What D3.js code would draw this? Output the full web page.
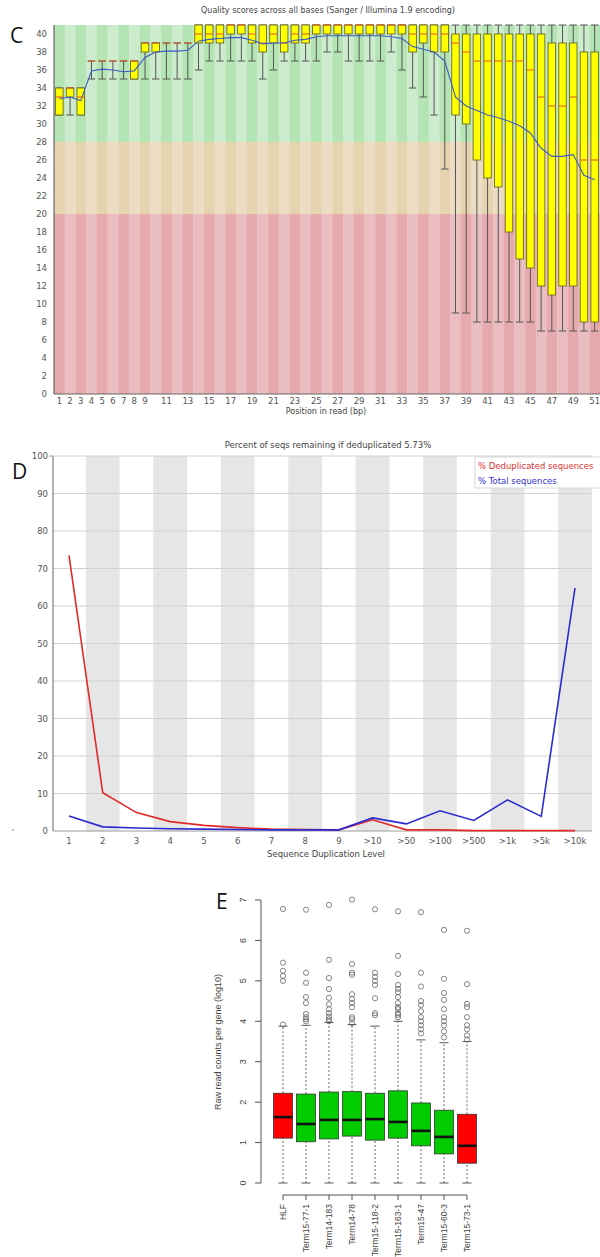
<!DOCTYPE html>
<html lang="en">
<head>
<meta charset="UTF-8">
<title>Read QC panels C, D, E</title>
<script src="https://d3js.org/d3.v7.min.js"></script>
<style>
  body { margin: 0; background: #fff; }
  svg { display: block; font-family: "DejaVu Sans", sans-serif; }
  .panel-letter { font-family: "Open Sans", "Liberation Sans", sans-serif; font-size: 21px; fill: #111; }
</style>
</head>
<body>
<svg id="fig" width="600" height="1257"></svg>
<script>
// ---------- Panel C data: per-base quality (positions 1..51)
const positions = [1,2,3,4,5,6,7,8,9,10,11,12,13,14,15,16,17,18,19,20,21,22,23,24,25,26,
  27,28,29,30,31,32,33,34,35,36,37,38,39,40,41,42,43,44,45,46,47,48,49,50,51];
const posTickLabels = [1,2,3,4,5,6,7,8,9,11,13,15,17,19,21,23,25,27,29,31,33,35,37,39,41,43,45,47,49,51];
const qLow  = [31,31,31,35,35,35,35,35,35,35,35,35,35,36,37,37,37,37,37,35,36,37,37,37,37,38,
  38,37,37,37,37,38,36,34,33,31,25,9,9,8,8,8,8,8,8,7,7,7,7,7,7];
const qQ1   = [31,33,31,37,37,37,37,35,38,38,39,39,39,39,39,39,40,40,39,38,39,38,39,39,40,40,
  40,40,40,40,40,40,40,38,39,38,38,31,30,26,24,23,18,15,14,12,11,12,12,8,8];
const qMed  = [33,34,33,37,37,37,37,37,39,39,39,39,39,40,40,40,41,41,40,39,40,39,40,40,41,41,
  41,41,41,41,41,41,41,40,40,40,40,39,38,37,37,37,37,37,36,33,32,32,33,26,26];
const qQ3   = [34,34,34,37,37,37,37,37,39,39,39,39,39,41,41,41,41,41,41,41,41,41,41,41,41,41,
  41,41,41,41,41,41,41,41,41,41,41,40,40,40,40,40,40,40,40,40,39,39,39,38,38];
const qHigh = [34,34,34,37,37,37,37,37,39,39,39,39,39,41,41,41,41,41,41,41,41,41,41,41,41,41,
  41,41,41,41,41,41,41,41,41,41,41,41,41,41,41,41,41,41,41,41,41,41,41,41,41];
const qMean = [32.8,33.0,32.6,35.9,36.1,36.0,35.8,35.9,37.4,38.0,38.1,38.1,38.2,39.2,39.4,39.5,
  39.6,39.6,39.3,38.9,39.0,39.0,39.3,39.4,39.7,39.8,39.8,39.8,39.8,39.8,39.8,39.7,39.5,38.6,
  38.3,38.0,37.0,33.0,32.0,31.5,31.0,30.7,30.3,29.8,29.0,27.3,26.4,26.4,26.6,24.3,23.8];
const qTicks = [0,2,4,6,8,10,12,14,16,18,20,22,24,26,28,30,32,34,36,38,40];

// ---------- Panel D data: duplication levels
const dupLevels = ["1","2","3","4","5","6","7","8","9",">10",">50",">100",">500",">1k",">5k",">10k"];
const dedupPct = [73.5,10.2,4.9,2.5,1.5,0.9,0.5,0.4,0.3,3.0,0.3,0.3,0.1,0.1,0.1,0.1];
const totalPct = [4.0,1.1,0.8,0.6,0.5,0.4,0.3,0.3,0.3,3.5,1.9,5.4,2.8,8.3,3.9,64.8];
const dupTicks = [0,10,20,30,40,50,60,70,80,90,100];

// ---------- Panel E data: raw read counts per gene (log10)
const samples  = ["HLF","Term15-77-1","Term14-183","Term14-78","Term15-118-2","Term15-163-1","Term15-47","Term15-60-3","Term15-73-1"];
const sampleGroup = ["ref","term","term","term","term","term","term","term","ref"];
const rcLow    = [0,0,0,0,0,0,0,0,0];
const rcQ1     = [1.11,1.02,1.09,1.16,1.06,1.11,0.92,0.72,0.49];
const rcMed    = [1.63,1.46,1.56,1.56,1.58,1.51,1.29,1.14,0.92];
const rcQ3     = [2.22,2.20,2.25,2.26,2.22,2.28,1.98,1.80,1.70];
const rcHigh   = [3.88,3.90,3.97,3.92,3.88,4.00,3.54,3.47,3.50];
const rcOutliers = [
  [6.78,5.45,5.25,5.12,5.0,3.92],
  [6.76,5.2,4.95,4.6,4.45,4.18,4.1,4.05,4.0],
  [6.88,5.52,5.07,4.8,4.58,4.42,4.3,4.2,4.12,4.05,4.0],
  [7.01,5.42,5.2,5.15,4.67,4.55,4.45,4.35,4.1,4.05,3.95],
  [6.77,5.2,5.1,5.0,4.9,4.57,4.2,4.15],
  [6.72,5.62,5.17,4.9,4.8,4.72,4.6,4.45,4.35,4.3,4.2,4.16,4.1],
  [6.70,5.2,4.86,4.5,4.4,4.25,4.1,4.0,3.9,3.8,3.7],
  [6.26,5.05,4.7,4.53,4.3,4.1,4.0,3.9,3.75,3.6],
  [6.24,4.92,4.43,4.35,4.1,3.9,3.8,3.65,3.55]
];
const rcTicks = [0,1,2,3,4,5,6,7];

const svg = d3.select("#fig");
svg.append("rect").attr("width", 600).attr("height", 1257).attr("fill", "#fff");

// ================= Panel C =================
const gC = svg.append("g");
const xC = d3.scaleBand().domain(positions).range([54, 600]);
const yC = d3.scaleLinear().domain([0, 41]).range([394, 25]);
const bw = xC.bandwidth();

const zones = [
  { from: 28, to: 41, dark: "#b4e3b4", light: "#cdebcd" },
  { from: 20, to: 28, dark: "#e6d3b0", light: "#ebdcc3" },
  { from: 0,  to: 20, dark: "#e6aaae", light: "#eabec0" }
];
zones.forEach(z => {
  gC.selectAll(null)
    .data(positions)
    .enter()
    .append("rect")
    .attr("x", d => xC(d))
    .attr("width", bw + 0.3)
    .attr("y", yC(z.to))
    .attr("height", yC(z.from) - yC(z.to))
    .attr("fill", (d, i) => i % 2 === 0 ? z.dark : z.light);
});

const capW = bw * 0.7;
const boxes = gC.selectAll(".qbox")
  .data(positions)
  .enter()
  .append("g")
  .attr("class", "qbox");

boxes.append("line")
  .attr("x1", d => xC(d) + bw / 2).attr("x2", d => xC(d) + bw / 2)
  .attr("y1", (d, i) => yC(qLow[i])).attr("y2", (d, i) => yC(qHigh[i]))
  .attr("stroke", "#555").attr("stroke-width", 1);
[qLow, qHigh].forEach(arr => {
  boxes.append("line")
    .attr("x1", d => xC(d) + bw / 2 - capW / 2).attr("x2", d => xC(d) + bw / 2 + capW / 2)
    .attr("y1", (d, i) => yC(arr[i])).attr("y2", (d, i) => yC(arr[i]))
    .attr("stroke", "#555").attr("stroke-width", 1);
});
boxes.filter((d, i) => qQ3[i] > qQ1[i])
  .append("rect")
  .attr("x", d => xC(d) + bw / 2 - capW / 2)
  .attr("width", capW)
  .attr("y", d => yC(qQ3[positions.indexOf(d)]))
  .attr("height", d => { const i = positions.indexOf(d); return yC(qQ1[i]) - yC(qQ3[i]); })
  .attr("fill", "#ffff00").attr("stroke", "#6d6a20").attr("stroke-width", 0.9);
boxes.append("line")
  .attr("x1", d => xC(d) + bw / 2 - capW / 2).attr("x2", d => xC(d) + bw / 2 + capW / 2)
  .attr("y1", (d, i) => yC(qMed[i])).attr("y2", (d, i) => yC(qMed[i]))
  .attr("stroke", "#e2551e").attr("stroke-width", 1);

gC.append("path")
  .datum(positions)
  .attr("fill", "none")
  .attr("stroke", "#3b5cc4")
  .attr("stroke-width", 1.1)
  .attr("d", d3.line()
    .x(d => xC(d) + bw / 2)
    .y((d, i) => yC(qMean[i])));

// axes
gC.append("line").attr("x1", 54).attr("x2", 54).attr("y1", yC(41)).attr("y2", yC(0))
  .attr("stroke", "#666").attr("stroke-width", 1.2);
gC.append("line").attr("x1", 54).attr("x2", 600).attr("y1", yC(0)).attr("y2", yC(0))
  .attr("stroke", "#666").attr("stroke-width", 1.2);
gC.selectAll(".ytc").data(qTicks).enter().append("text")
  .attr("x", 47).attr("y", d => yC(d) + 3)
  .attr("text-anchor", "end").attr("font-size", 8.5).attr("fill", "#555")
  .text(d => d);
gC.selectAll(".xtc").data(posTickLabels).enter().append("text")
  .attr("x", d => xC(d) + bw / 2).attr("y", 404)
  .attr("text-anchor", "middle").attr("font-size", 8.5).attr("fill", "#555")
  .text(d => d);
gC.append("text").attr("x", 326).attr("y", 414).attr("text-anchor", "middle")
  .attr("font-size", 8).attr("fill", "#444").text("Position in read (bp)");
gC.append("text").attr("x", 328).attr("y", 13).attr("text-anchor", "middle")
  .attr("font-size", 8).attr("fill", "#444")
  .text("Quality scores across all bases (Sanger / Illumina 1.9 encoding)");
svg.append("text").attr("class", "panel-letter").attr("x", 10).attr("y", 43).text("C");

// ================= Panel D =================
const gD = svg.append("g");
const xD = d3.scalePoint().domain(dupLevels).range([69, 575]);
const stepD = xD.step();
const yD = d3.scaleLinear().domain([0, 100]).range([831, 456]);

gD.selectAll(".band").data(dupLevels.filter((d, i) => i % 2 === 1)).enter().append("rect")
  .attr("x", d => xD(d) - stepD / 2).attr("width", stepD)
  .attr("y", yD(100)).attr("height", yD(0) - yD(100))
  .attr("fill", "#e6e6e6");
gD.selectAll(".grid").data(dupTicks.filter(d => d > 0)).enter().append("line")
  .attr("x1", 53).attr("x2", xD(">10k") + stepD / 2)
  .attr("y1", d => yD(d)).attr("y2", d => yD(d))
  .attr("stroke", "#d2d2d2").attr("stroke-width", 1);
gD.append("line").attr("x1", 53).attr("x2", 53).attr("y1", yD(100)).attr("y2", yD(0))
  .attr("stroke", "#999").attr("stroke-width", 1.5);
gD.append("line").attr("x1", 53).attr("x2", xD(">10k") + stepD / 2).attr("y1", yD(0)).attr("y2", yD(0))
  .attr("stroke", "#999").attr("stroke-width", 1.2);
gD.append("line").attr("x1", 49).attr("x2", 53).attr("y1", yD(100)).attr("y2", yD(100))
  .attr("stroke", "#999");

const lineD = d3.line().x((d, i) => xD(dupLevels[i])).y(d => yD(d));
gD.append("path").datum(dedupPct).attr("d", lineD)
  .attr("fill", "none").attr("stroke", "#e02a2a").attr("stroke-width", 1.6);
gD.append("path").datum(totalPct).attr("d", lineD)
  .attr("fill", "none").attr("stroke", "#2a2ad0").attr("stroke-width", 1.6);

gD.selectAll(".ytd").data(dupTicks).enter().append("text")
  .attr("x", 48).attr("y", d => yD(d) + 3)
  .attr("text-anchor", "end").attr("font-size", 8.5).attr("fill", "#555")
  .text(d => d);
gD.selectAll(".xtd").data(dupLevels).enter().append("text")
  .attr("x", d => xD(d)).attr("y", 844)
  .attr("text-anchor", "middle").attr("font-size", 8.5).attr("fill", "#555")
  .text(d => d);
gD.append("text").attr("x", 326).attr("y", 857).attr("text-anchor", "middle")
  .attr("font-size", 8.5).attr("fill", "#444").text("Sequence Duplication Level");
gD.append("text").attr("x", 328).attr("y", 448).attr("text-anchor", "middle")
  .attr("font-size", 8.5).attr("fill", "#444")
  .text("Percent of seqs remaining if deduplicated 5.73%");

gD.append("rect").attr("x", 475).attr("y", 457).attr("width", 140).attr("height", 31)
  .attr("fill", "#fff").attr("stroke", "#d8d8d8");
gD.append("text").attr("x", 478).attr("y", 469).attr("font-size", 8.5).attr("fill", "#e03333")
  .text("% Deduplicated sequences");
gD.append("text").attr("x", 478).attr("y", 484).attr("font-size", 8.5).attr("fill", "#3333cc")
  .text("% Total sequences");
svg.append("text").attr("class", "panel-letter").attr("x", 12).attr("y", 479).text("D");
svg.append("circle").attr("cx", 13).attr("cy", 830).attr("r", 0.8).attr("fill", "#777");

// ================= Panel E =================
const gE = svg.append("g").style("font-family", "'Liberation Sans', Arial, sans-serif");
const xE = d3.scalePoint().domain(samples).range([283, 467]);
const yE = d3.scaleLinear().domain([0, 7]).range([1183, 900]);
const boxW = 19, stapleW = 9;
const fillE = { ref: "#ff0000", term: "#00cc00" };

const eBoxes = gE.selectAll(".ebox").data(samples).enter().append("g");
// dashed whiskers
eBoxes.append("line")
  .attr("x1", d => xE(d)).attr("x2", d => xE(d))
  .attr("y1", (d, i) => yE(rcLow[i])).attr("y2", (d, i) => yE(rcQ1[i]))
  .attr("stroke", "#555").attr("stroke-dasharray", "2,2").attr("stroke-width", 0.9);
eBoxes.append("line")
  .attr("x1", d => xE(d)).attr("x2", d => xE(d))
  .attr("y1", (d, i) => yE(rcQ3[i])).attr("y2", (d, i) => yE(rcHigh[i]))
  .attr("stroke", "#555").attr("stroke-dasharray", "2,2").attr("stroke-width", 0.9);
[rcLow, rcHigh].forEach(arr => {
  eBoxes.append("line")
    .attr("x1", d => xE(d) - stapleW / 2).attr("x2", d => xE(d) + stapleW / 2)
    .attr("y1", (d, i) => yE(arr[i])).attr("y2", (d, i) => yE(arr[i]))
    .attr("stroke", "#444").attr("stroke-width", 0.9);
});
eBoxes.append("rect")
  .attr("x", d => xE(d) - boxW / 2).attr("width", boxW)
  .attr("y", (d, i) => yE(rcQ3[i]))
  .attr("height", (d, i) => yE(rcQ1[i]) - yE(rcQ3[i]))
  .attr("fill", (d, i) => fillE[sampleGroup[i]])
  .attr("stroke", "#333").attr("stroke-width", 0.8);
eBoxes.append("line")
  .attr("x1", d => xE(d) - boxW / 2).attr("x2", d => xE(d) + boxW / 2)
  .attr("y1", (d, i) => yE(rcMed[i])).attr("y2", (d, i) => yE(rcMed[i]))
  .attr("stroke", "#111").attr("stroke-width", 2.6);
eBoxes.each(function(d, i) {
  d3.select(this).selectAll("circle").data(rcOutliers[i]).enter().append("circle")
    .attr("cx", xE(d)).attr("cy", v => yE(v)).attr("r", 2.6)
    .attr("fill", "none").attr("stroke", "#666").attr("stroke-width", 0.8);
});

// y axis (R style)
gE.append("line").attr("x1", 261).attr("x2", 261).attr("y1", yE(0)).attr("y2", yE(7))
  .attr("stroke", "#555");
gE.selectAll(".ytk").data(rcTicks).enter().append("line")
  .attr("x1", 255).attr("x2", 261).attr("y1", d => yE(d)).attr("y2", d => yE(d))
  .attr("stroke", "#555");
gE.selectAll(".ytl").data(rcTicks).enter().append("text")
  .attr("transform", d => `translate(246,${yE(d)}) rotate(-90)`)
  .attr("text-anchor", "middle").attr("font-size", 9).attr("fill", "#444")
  .text(d => d);
gE.append("text")
  .attr("transform", "translate(221,1042) rotate(-90)")
  .attr("text-anchor", "middle").attr("font-size", 9).attr("fill", "#444")
  .text("Raw read counts per gene (log10)");

// x axis (R style, las = 2)
gE.append("line").attr("x1", xE(samples[0])).attr("x2", xE(samples[samples.length - 1]))
  .attr("y1", 1195).attr("y2", 1195).attr("stroke", "#555");
gE.selectAll(".xtk").data(samples).enter().append("line")
  .attr("x1", d => xE(d)).attr("x2", d => xE(d)).attr("y1", 1195).attr("y2", 1200)
  .attr("stroke", "#555");
gE.selectAll(".xtl").data(samples).enter().append("text")
  .attr("transform", d => `translate(${xE(d) + 3},1204) rotate(-90)`)
  .attr("text-anchor", "end").attr("font-size", 8.5).attr("fill", "#444")
  .text(d => d);
svg.append("text").attr("class", "panel-letter").attr("x", 216).attr("y", 909).text("E");
</script>
</body>
</html>
